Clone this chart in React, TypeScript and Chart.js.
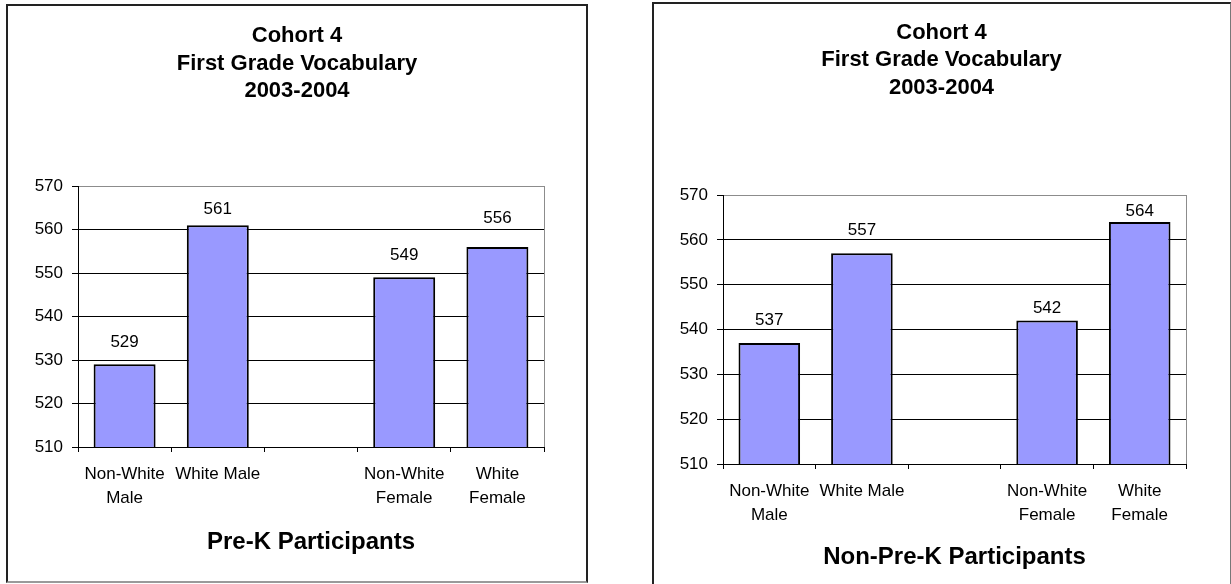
import React, { useEffect, useRef } from "react";
import { Chart, registerables } from "chart.js";

Chart.register(...registerables);

// Category labels (the empty slot separates the male and female groups)
const categories: (string | string[])[] = [
  ["Non-White", "Male"],
  "White Male",
  "",
  ["Non-White", "Female"],
  ["White", "Female"],
];

// First grade vocabulary scores, 2003-2004
const preKScores = [529, 561, null, 549, 556];
const nonPreKScores = [537, 557, null, 542, 564];

const titleLines = ["Cohort 4", "First Grade Vocabulary", "2003-2004"];
const yMin = 510;
const yMax = 570;
const yStep = 10;

// How far each value label sits above its bar (px)
const preKLabelLift = [22, 16, 0, 22, 29];
const nonPreKLabelLift = [23, 23, 0, 12, 11];

const FONT = "'Liberation Sans', Arial, Helvetica, sans-serif";
const BAR_FILL = "#9999FF";

type PanelSpec = {
  id: string;
  xTitle: string;
  values: (number | null)[];
  lift: number[];
  left: number;
  top: number;
  width: number;
  height: number;
  yAxisWidth: number;
  rightGutter: number;
  titleTop: number;
  titleBottom: number;
  xTitleTop: number;
  xTitleBottom: number;
  border: React.CSSProperties;
};

const panels: PanelSpec[] = [
  {
    id: "prek",
    xTitle: "Pre-K Participants",
    values: preKScores,
    lift: preKLabelLift,
    left: 6,
    top: 4,
    width: 582,
    height: 579,
    yAxisWidth: 72,
    rightGutter: 44,
    titleTop: 18.25,
    titleBottom: 81.25,
    xTitleTop: 7.6,
    xTitleBottom: 26.6,
    border: {
      borderLeft: "2px solid #222",
      borderTop: "2px solid #222",
      borderRight: "2px solid #222",
      borderBottom: "2px solid #9a9a9a",
    },
  },
  {
    id: "nonprek",
    xTitle: "Non-Pre-K Participants",
    values: nonPreKScores,
    lift: nonPreKLabelLift,
    left: 652,
    top: 2,
    width: 579,
    height: 598,
    yAxisWidth: 71,
    rightGutter: 45,
    titleTop: 16.75,
    titleBottom: 93.75,
    xTitleTop: 5.6,
    xTitleBottom: 28.6,
    border: {
      borderLeft: "2px solid #222",
      borderTop: "2px solid #222",
      borderRight: "1px solid #777",
    },
  },
];

function Panel({ spec }: { spec: PanelSpec }) {
  const ref = useRef<HTMLCanvasElement | null>(null);

  useEffect(() => {
    if (!ref.current) return;

    const valueLabels = {
      id: "valueLabels",
      afterDatasetsDraw(chart: any) {
        const { ctx } = chart;
        const meta = chart.getDatasetMeta(0);
        const data = chart.data.datasets[0].data as (number | null)[];
        ctx.save();
        ctx.font = `17px ${FONT}`;
        ctx.fillStyle = "#000";
        ctx.textAlign = "center";
        ctx.textBaseline = "middle";
        meta.data.forEach((bar: any, i: number) => {
          const v = data[i];
          if (v == null) return;
          ctx.fillText(String(v), bar.x, bar.y - spec.lift[i]);
        });
        ctx.restore();
      },
    };

    // Grey right-hand edge of the plot area
    const plotFrame = {
      id: "plotFrame",
      beforeDatasetsDraw(chart: any) {
        const { ctx, chartArea: a } = chart;
        ctx.save();
        ctx.strokeStyle = "#8c8c8c";
        ctx.lineWidth = 1;
        const x = Math.round(a.right) + 0.5;
        ctx.beginPath();
        ctx.moveTo(x, a.top);
        ctx.lineTo(x, a.bottom);
        ctx.stroke();
        ctx.restore();
      },
    };

    const chart = new Chart(ref.current, {
      type: "bar",
      data: {
        labels: categories as any,
        datasets: [
          {
            data: spec.values as any,
            backgroundColor: BAR_FILL,
            borderColor: "#000",
            borderWidth: 2,
            borderSkipped: false,
            barPercentage: 0.665,
            categoryPercentage: 1,
          },
        ],
      },
      options: {
        responsive: false,
        animation: false,
        devicePixelRatio: 1,
        layout: { padding: 0 },
        plugins: {
          legend: { display: false },
          tooltip: { enabled: false },
          title: {
            display: true,
            text: titleLines,
            color: "#000",
            font: { family: FONT, size: 22, weight: "bold", lineHeight: "27.5px" as any },
            padding: { top: spec.titleTop, bottom: spec.titleBottom },
          },
        },
        scales: {
          x: {
            grid: {
              drawOnChartArea: false,
              tickLength: 5,
              color: "#000",
              offset: true,
            },
            border: { color: "#000", width: 1 },
            ticks: {
              color: "#000",
              font: { family: FONT, size: 17, lineHeight: "24px" as any },
              padding: 10,
              maxRotation: 0,
              autoSkip: false,
            },
            title: {
              display: true,
              text: spec.xTitle,
              color: "#000",
              font: { family: FONT, size: 24, weight: "bold", lineHeight: 1.2 },
              padding: { top: spec.xTitleTop, bottom: spec.xTitleBottom },
            },
          },
          y: {
            min: yMin,
            max: yMax,
            ticks: {
              stepSize: yStep,
              color: "#000",
              font: { family: FONT, size: 17 },
              padding: 9,
            },
            grid: {
              color: (ctx: any) => (ctx.tick && ctx.tick.value === yMax ? "#8c8c8c" : "#000"),
              tickColor: "#000",
              tickLength: 6,
            },
            border: { color: "#000", width: 1 },
            afterFit: (scale: any) => {
              scale.width = spec.yAxisWidth;
            },
          },
          // empty right-hand gutter so the title stays centred on the whole panel
          gutter: {
            type: "linear",
            position: "right",
            display: true,
            grid: { display: false, drawTicks: false },
            ticks: { display: false },
            border: { display: false },
            afterFit: (scale: any) => {
              scale.width = spec.rightGutter;
            },
          },
        } as any,
      },
      plugins: [plotFrame, valueLabels],
    });

    return () => chart.destroy();
  }, [spec]);

  return (
    <>
      <canvas
        ref={ref}
        width={spec.width}
        height={spec.height}
        style={{
          position: "absolute",
          left: spec.left,
          top: spec.top,
          width: spec.width,
          height: spec.height,
        }}
      />
      <div
        style={{
          position: "absolute",
          left: spec.left,
          top: spec.top,
          width: spec.width,
          height: spec.height,
          boxSizing: "border-box",
          pointerEvents: "none",
          ...spec.border,
        }}
      />
    </>
  );
}

export default function App() {
  return (
    <div
      style={{
        position: "fixed",
        left: 0,
        top: 0,
        width: 1231,
        height: 584,
        overflow: "hidden",
        background: "#fff",
      }}
    >
      {panels.map((p) => (
        <Panel key={p.id} spec={p} />
      ))}
    </div>
  );
}
